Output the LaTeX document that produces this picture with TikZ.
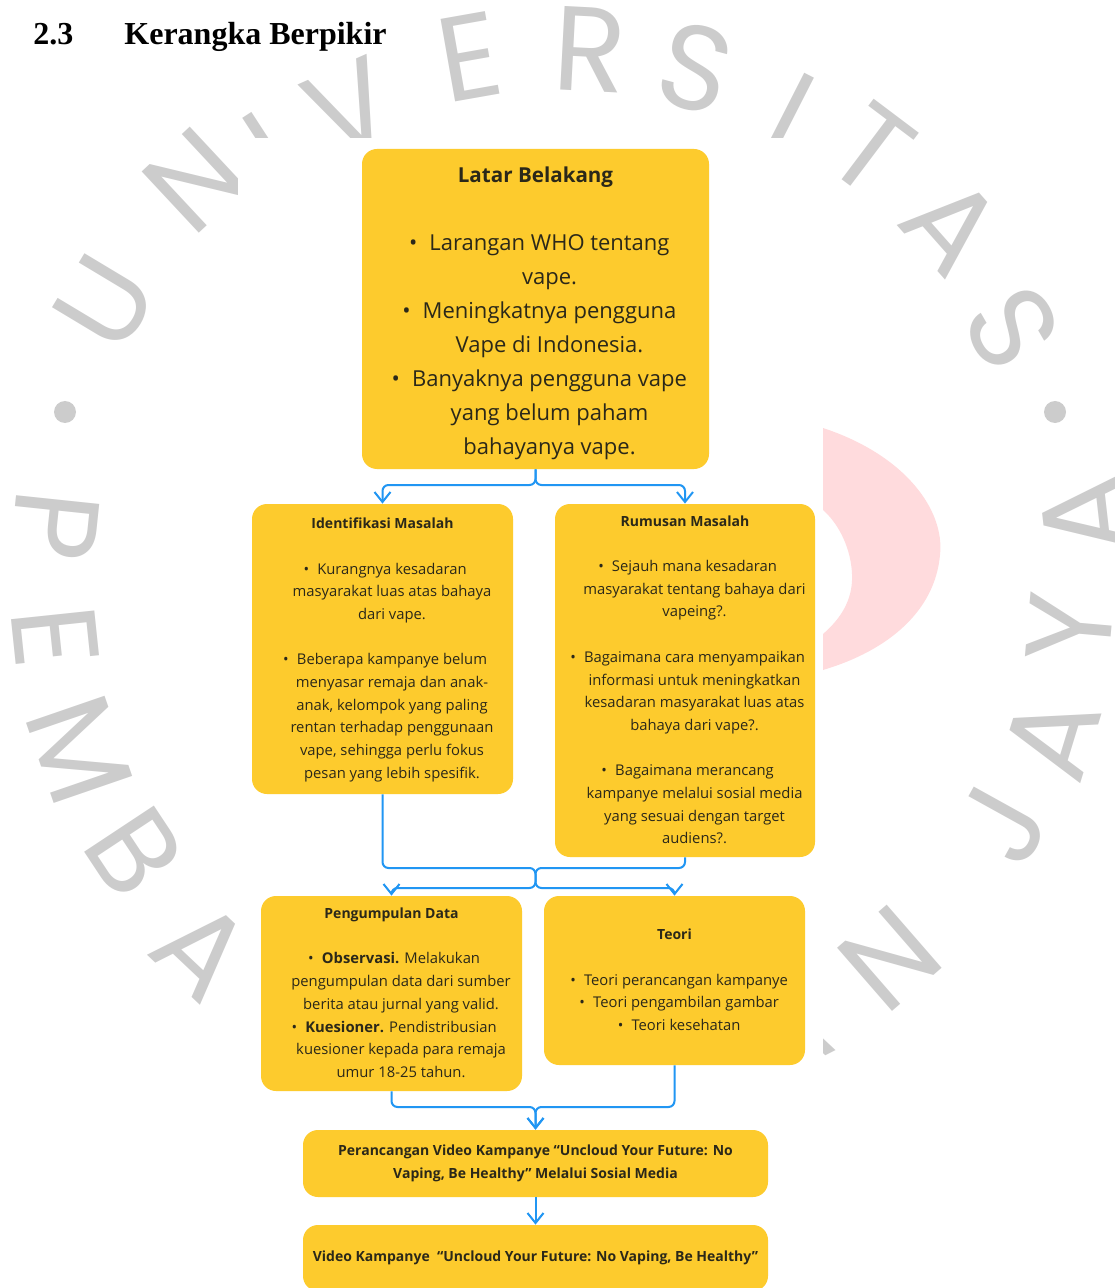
\documentclass[tikz,border=0pt]{standalone}
\usepackage{fontspec}
\setmainfont{Open Sans}
\newfontfamily\headfont{Liberation Serif}
\newfontfamily\wmfont{Poppins}
\usepackage{xcolor}
\usepackage{tikz}
\usetikzlibrary{arrows.meta}

\definecolor{boxyellow}{RGB}{253,203,45}
\definecolor{linkblue}{RGB}{33,150,243}
\definecolor{inkdark}{RGB}{43,40,25}
\definecolor{wmgray}{RGB}{204,204,204}
\definecolor{wmpink}{RGB}{255,219,221}

\newcommand{\bul}{\llap{\textbullet\hspace{0.55em}}}
\newcommand{\pts}[2]{\hspace*{#1}\begin{tabular}[t]{@{}c@{}}#2\end{tabular}}

\begin{document}
\begin{tikzpicture}[x=0.5pt,y=-0.5pt,
    box/.style={fill=boxyellow,rounded corners=7.5pt,align=center,inner sep=0pt,text=inkdark},
    big/.style={font=\fontsize{11}{17}\selectfont},
    small/.style={font=\fontsize{7.4}{11.35}\selectfont},
    link/.style={draw=linkblue,line width=1pt,rounded corners=3pt,-{Straight Barb[length=5pt,width=8pt]}},
    wm/.style={text=wmgray,font=\wmfont\fontsize{60}{60}\selectfont,inner sep=0pt}]
  \useasboundingbox (0,0) rectangle (1114,1288);
  \clip (0,0) rectangle (1114,1288);

  % watermark behind the figure
  \fill[wmpink] (823,428) .. controls (905,455) and (945,510) .. (940,555)
    .. controls (935,610) and (890,650) .. (823,670) -- (823,634)
    .. controls (845,615) and (853,595) .. (852,574)
    .. controls (851,550) and (840,525) .. (823,510) -- cycle;
  \foreach \ch/\x/\y/\r [count=\i] in {U/105/302/59, N/195/180/43, I/270/150/33, V/350/108/24,
      E/470/57/10, R/590/50/-3, S/695/68/-15, I/791/113/-27, T/872/150/-37, A/952/225/-48.5,
      S/1012/328/-60, A/1085/515/96.5, Y/1070/628/85, A/1052/737/73, J/1002/825/61,
      N/890/958/41, A/785/1030/27, P/55/525/-96, E/55/637/-84, M/80/750/-71,
      B/135/852/-56.5, A/202/950/-43.4}
    \node[wm,rotate=\r] (wm\i) at (\x,\y) {\ch};
  \fill[wmgray] (65,412) circle (11) (1055,412) circle (11);
  \fill[white] (238,138) rectangle (823,1300);

  % heading
  \node[anchor=base west,inner sep=0pt,font=\headfont\bfseries\fontsize{16}{16}\selectfont] (secnum) at (33,45) {2.3};
  \node[anchor=base west,inner sep=0pt,font=\headfont\bfseries\fontsize{16}{16}\selectfont] (sectitle) at (124,45) {Kerangka Berpikir};

  % boxes
  \node[box,big,minimum width=173.5pt,minimum height=160pt] (latar) at (535.5,309)
    {{\bfseries\fontsize{10.3}{17}\selectfont\rule{0pt}{14.9pt}Latar Belakang}\\[17pt]
     \pts{14pt}{\bul Larangan WHO tentang\\ vape.\\ \bul Meningkatnya pengguna\\ Vape di Indonesia.\\
       \bul Banyaknya pengguna vape\\ yang belum paham\\ bahayanya vape.}};
  \node[box,small,minimum width=130.5pt,minimum height=145pt] (idm) at (382.5,649)
    {{\bfseries\fontsize{7}{11.35}\selectfont\strut Identifikasi Masalah}\\[11.35pt]
     \pts{9.5pt}{\bul Kurangnya kesadaran\\ masyarakat luas atas bahaya\\ dari vape.\\[11.35pt]
       \bul Beberapa kampanye belum\\ menyasar remaja dan anak-\\ anak, kelompok yang paling\\
       rentan terhadap penggunaan\\ vape, sehingga perlu fokus\\ pesan yang lebih spesifik.}};
  \node[box,small,minimum width=130pt,minimum height=176.5pt] (rm) at (685,680.5)
    {{\bfseries\fontsize{7}{11.35}\selectfont\strut Rumusan Masalah}\\[11.35pt]
     \pts{9.5pt}{\bul Sejauh mana kesadaran\\ masyarakat tentang bahaya dari\\ vapeing?.\\[11.35pt]
       \bul Bagaimana cara menyampaikan\\ informasi untuk meningkatkan\\ kesadaran masyarakat luas atas\\ bahaya dari vape?.\\[11.35pt]
       \bul Bagaimana merancang\\ kampanye melalui sosial media\\ yang sesuai dengan target\\ audiens?.}};
  \node[box,small,minimum width=130.5pt,minimum height=97.5pt] (pd) at (391.5,993.5)
    {{\bfseries\fontsize{7}{11.35}\selectfont\strut Pengumpulan Data}\\[11.35pt]
     \pts{9.5pt}{\bul\textbf{Observasi.} Melakukan\\ pengumpulan data dari sumber\\ berita atau jurnal yang valid.\\
       \bul\textbf{Kuesioner.} Pendistribusian\\ kuesioner kepada para remaja\\ umur 18-25 tahun.}};
  \node[box,small,minimum width=130.5pt,minimum height=84.5pt] (teori) at (674.5,980.5)
    {{\bfseries\fontsize{7}{11.35}\selectfont\strut Teori}\\[11.35pt]
     \pts{11.5pt}{\bul Teori perancangan kampanye\\ \bul Teori pengambilan gambar\\ \bul Teori kesehatan}};
  \node[box,small,font=\bfseries\fontsize{7}{11.5}\selectfont,minimum width=232.5pt,minimum height=33.5pt] (prc) at (535.5,1163.5)
    {Perancangan Video Kampanye “Uncloud Your Future: No\\ Vaping, Be Healthy” Melalui Sosial Media};
  \node[box,small,font=\bfseries\fontsize{7}{11.5}\selectfont,minimum width=232.5pt,minimum height=33pt] (video) at (535.5,1258)
    {Video Kampanye\ \ “Uncloud Your Future: No Vaping, Be Healthy”};

  % connectors
  \coordinate (j1) at (535.5,485);
  \coordinate (j2) at (535.5,868);
  \coordinate (j3) at (535.5,888);
  \coordinate (j4) at (535.5,1107);
  \draw[link] (latar.south) -- (j1) -| (idm.north);
  \draw[link] (latar.south) -- (j1) -| (rm.north);
  \draw[link] (idm.south) |- (j2) -- (j3) -| (pd.north);
  \draw[link] (rm.south) |- (j2) -- (j3) -| (teori.north);
  \draw[link] (pd.south) |- (j4) -- (prc.north);
  \draw[link] (teori.south) |- (j4) -- (prc.north);
  \draw[link] (prc) -- (video);
\end{tikzpicture}
\end{document}
